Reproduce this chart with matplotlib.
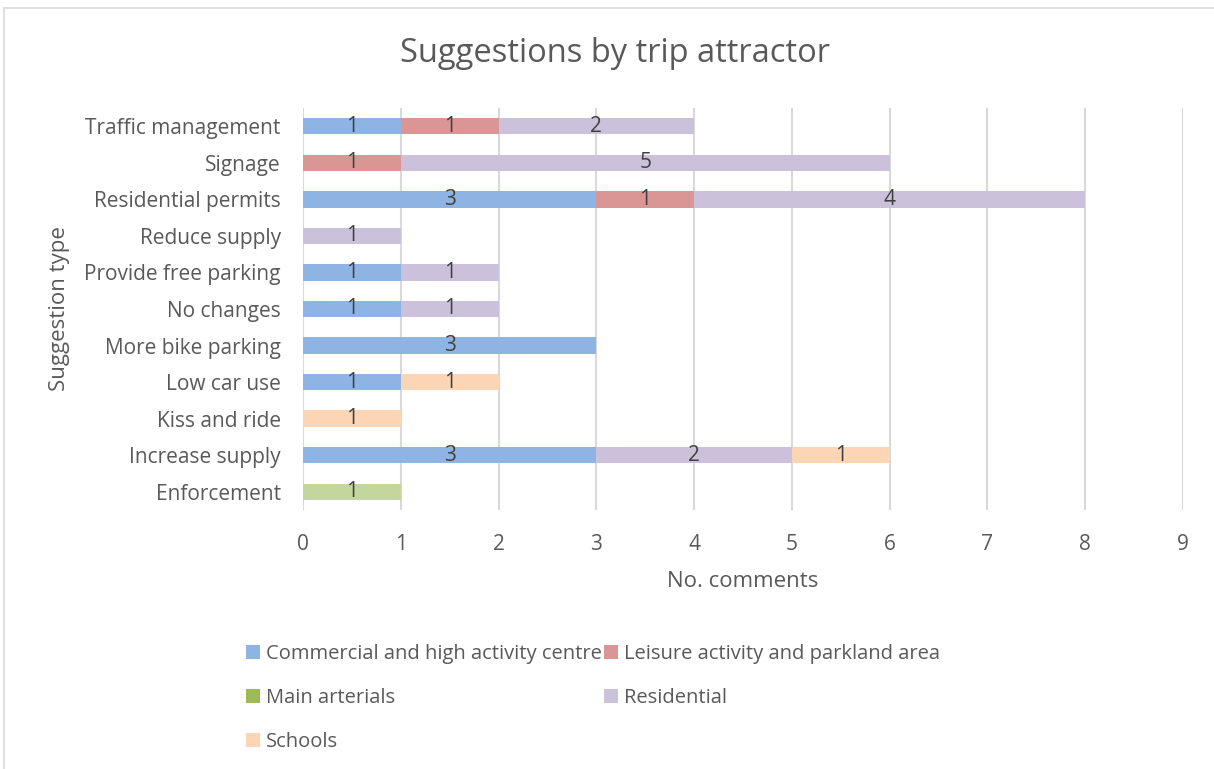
import numpy as np
import matplotlib.pyplot as plt
from matplotlib.patches import Patch, Rectangle

plt.rcParams['font.family'] = ['Open Sans', 'DejaVu Sans']

# Categorías (de abajo hacia arriba) y valores por tipo de atractor
categorias = ["Enforcement", "Increase supply", "Kiss and ride", "Low car use",
              "More bike parking", "No changes", "Provide free parking",
              "Reduce supply", "Residential permits", "Signage", "Traffic management"]

comercial = [0, 3, 0, 1, 3, 1, 1, 0, 3, 0, 1]
ocio = [0, 0, 0, 0, 0, 0, 0, 0, 1, 1, 1]
arteriales = [1, 0, 0, 0, 0, 0, 0, 0, 0, 0, 0]
residencial = [0, 2, 0, 0, 0, 1, 1, 1, 4, 5, 2]
escuelas = [0, 1, 1, 1, 0, 0, 0, 0, 0, 0, 0]

series = [
    ("Commercial and high activity centre", comercial, "#8EB4E3", "#8EB4E3"),
    ("Leisure activity and parkland area", ocio, "#D99694", "#D99694"),
    ("Main arterials", arteriales, "#C3D69B", "#9BBB59"),
    ("Residential", residencial, "#CCC1DA", "#CCC1DA"),
    ("Schools", escuelas, "#FCD5B5", "#FCD5B5"),
]

texto = "#595959"
fig = plt.figure(figsize=(12.14, 7.69), dpi=100)
ax = fig.add_axes([303 / 1214, 1 - 510 / 769, 880 / 1214, 402 / 769])

y = np.arange(len(categorias))
izquierda = np.zeros(len(categorias))
handles = []
for nombre, valores, color, color_leyenda in series:
    valores = np.array(valores, dtype=float)
    ax.barh(y, valores, left=izquierda, height=0.45, color=color, zorder=2)
    for i, v in enumerate(valores):
        if v > 0:
            ax.text(izquierda[i] + v / 2, y[i], f"{int(v)}", ha="center", va="center",
                    fontsize=15, color="#404040", zorder=3)
    izquierda += valores
    handles.append(Patch(facecolor=color_leyenda, label=nombre))

ax.set_xlim(0, 9)
ax.set_ylim(-0.5, len(categorias) - 0.5)
ax.set_xticks(range(10))
ax.set_yticks(y)
ax.set_yticklabels(categorias)
ax.tick_params(axis="both", length=0, labelsize=15, labelcolor=texto)
ax.tick_params(axis="y", pad=16)
ax.tick_params(axis="x", pad=17)
ax.grid(axis="x", color="#D9D9D9", linewidth=1.5, zorder=0)
for s in ax.spines.values():
    s.set_visible(False)

ax.set_xlabel("No. comments", fontsize=16, color=texto, labelpad=12)
ax.set_ylabel("Suggestion type", fontsize=16, color=texto, labelpad=10)
fig.text(615 / 1214, 1 - 53 / 769, "Suggestions by trip attractor", ha="center",
         va="center", fontsize=23.5, color=texto)

# la leyenda se lee por filas: reordenar para ncol=2
orden = [0, 2, 4, 1, 3]
fig.legend(handles=[handles[i] for i in orden], ncol=2, loc="upper left",
           bbox_to_anchor=(228 / 1214, 1 - 626 / 769),
           frameon=False, fontsize=14.5, labelcolor=texto, handlelength=0.7, handleheight=0.7,
           handletextpad=0.3, columnspacing=0.1, labelspacing=1.2)

# marco del gráfico
fig.patches.append(Rectangle((4 / 1214, -0.1), 1.2, 1.1 - 8 / 769, transform=fig.transFigure,
                             fill=False, edgecolor="#D9D9D9", linewidth=1.2))

fig.savefig("out.png", dpi=100)
